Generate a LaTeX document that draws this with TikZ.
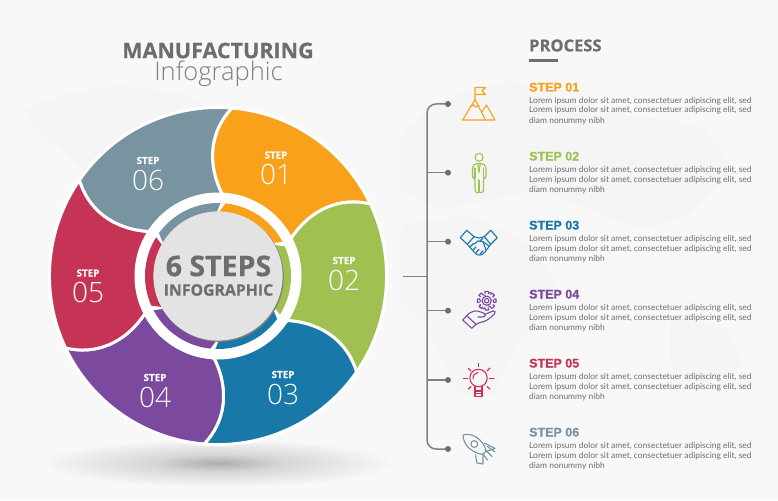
\documentclass[tikz,border=0pt]{standalone}
\usepackage{fontspec}
\setmainfont{Open Sans}
\newfontfamily\lightf{Open Sans Light}
\newfontfamily\headf[BoldFeatures={FakeBold=0.5}]{Liberation Sans}
\newfontfamily\heavyf[BoldFeatures={FakeBold=0.4}]{Open Sans}
\newfontfamily\bodyf{Lato}
\definecolor{bgc}{HTML}{F8F8F8}
\definecolor{mapc}{HTML}{F5F5F5}
\definecolor{cA}{HTML}{F9A11B}
\definecolor{cB}{HTML}{A0C151}
\definecolor{cC}{HTML}{1878A8}
\definecolor{cD}{HTML}{7B4A9F}
\definecolor{cE}{HTML}{C63455}
\definecolor{cF}{HTML}{7894A0}
\definecolor{tgray}{HTML}{6D6D6D}
\definecolor{lgray}{HTML}{808080}
\pgfdeclareradialshading{floorshadow}{\pgfpointorigin}{rgb(0bp)=(0.68,0.68,0.68); rgb(9bp)=(0.84,0.84,0.84); rgb(25bp)=(0.973,0.973,0.973); rgb(50bp)=(0.973,0.973,0.973)}
\newcommand{\fs}[1]{\fontsize{#1}{#1}\selectfont}
\tikzset{
  stepword/.style={text=white,font=\heavyf\bfseries\fs{9.8},inner sep=0pt},
  stepnum/.style={text=white,font=\lightf\fs{28},inner sep=0pt},
  dotnode/.style={circle,fill=tgray,minimum size=6pt,inner sep=0pt},
  trunk/.style={draw=lgray,line width=1.5pt},
  icon/.style={line width=1.1pt,line join=round,line cap=round},
  stephead/.style={font=\headf\fs{12.5}\bfseries,inner sep=0pt,anchor=base west},
  bodytxt/.style={text=tgray,font=\bodyf\fs{8.45},inner sep=0pt,anchor=base west},
}
\begin{document}
\begin{tikzpicture}[x=1pt,y=-1pt]
\useasboundingbox (0,0) rectangle (778,500);
\fill[bgc] (0,0) rectangle (778,500);
% faint world map
\fill[mapc,rounded corners=6] (22,112) -- (60,95) -- (120,85) -- (190,95) -- (230,130) -- (190,175) -- (140,215) -- (110,190) -- (60,150) -- cycle;
\fill[mapc,rounded corners=8] (400,135) -- (440,100) -- (510,80) -- (600,110) -- (700,125) -- (735,170) -- (690,215) -- (640,230) -- (590,210) -- (540,190) -- (490,200) -- (440,210) -- (400,190) -- cycle;
\fill[mapc,rounded corners=8] (400,225) -- (470,215) -- (530,245) -- (560,290) -- (520,340) -- (490,400) -- (455,390) -- (430,330) -- (400,300) -- cycle;
\fill[mapc,rounded corners=6] (670,320) -- (725,325) -- (745,365) -- (700,385) -- (670,365) -- cycle;
% floor shadow
\path[shading=floorshadow] (218,463) ellipse [x radius=178,y radius=24];
% wheel segments
\begin{scope}[shift={(218,276)},yscale=-1]
\foreach \k/\c in {0/cA,1/cB,2/cC,3/cD,4/cE,5/cF}{
  \begin{scope}[rotate=60*\k]
    \filldraw[fill=\c,draw=white,line width=3pt,line join=round]
      (3.7,82.7) .. controls (-12,115) and (-7,146) .. (13.9,168)
      arc[start angle=85.27,end angle=25.27,radius=168.57]
      .. controls (122.9,79.06) and (93.6,67.89) .. (73.47,38.15) -- cycle;
  \end{scope}
}
\fill[white] (0,0) circle (83.5);
\foreach \k/\c in {0/cA,1/cB,2/cC,3/cD,4/cE,5/cF}{
  \begin{scope}[rotate=60*\k]
    \fill[\c] (84:73) arc[start angle=84,end angle=28,radius=73] -- (31:64) arc[start angle=31,end angle=89,radius=64] -- cycle;
  \end{scope}
}
\fill[lgray] (1.2,-1.2) circle (64.6);
\fill[white!89!black] (0,0) circle (64.6);
\end{scope}
% wheel labels
\node[stepword] (w1) at (276,155) {STEP};
\node[stepnum] (n1) at (276,174.5) {01};
\node[stepword] (w2) at (344,260.5) {STEP};
\node[stepnum] (n2) at (344,280.5) {02};
\node[stepword] (w3) at (283,374.5) {STEP};
\node[stepnum] (n3) at (283,394) {03};
\node[stepword] (w4) at (155,377.5) {STEP};
\node[stepnum] (n4) at (155,397.5) {04};
\node[stepword] (w5) at (88,273) {STEP};
\node[stepnum] (n5) at (88,292.5) {05};
\node[stepword] (w6) at (148,160.5) {STEP};
\node[stepnum] (n6) at (148,180) {06};
\node[text=tgray,font=\heavyf\bfseries\fs{28.5},inner sep=0pt] (c1) at (218.5,266) {6 STEPS};
\node[text=tgray,font=\heavyf\bfseries\fs{15.8},inner sep=0pt] (c2) at (218.5,290) {INFOGRAPHIC};
% titles
\node[text=tgray,font=\heavyf\bfseries\fs{21.5},inner sep=0pt] (t1) at (218,50.5) {MANUFACTURING};
\node[text=lgray,font=\lightf\fs{25.5},inner sep=0pt] (t2) at (218.5,74) {Infographic};
\node[text=tgray,font=\heavyf\bfseries\fs{16.5},inner sep=0pt,anchor=west] (t3) at (529,45.5) {PROCESS};
\fill[tgray] (529,59.2) rectangle (558,62.2);
% timeline
\node[dotnode] (d1) at (448,104) {};
\node[dotnode] (d2) at (448,172.7) {};
\node[dotnode] (d3) at (448,241.7) {};
\node[dotnode] (d4) at (448,310.7) {};
\node[dotnode] (d5) at (448,380) {};
\node[dotnode] (d6) at (448,449) {};
\coordinate (tt) at (427,104);
\coordinate (tb) at (427,449);
\coordinate (b2) at (427,172.7);
\coordinate (b3) at (427,241.7);
\coordinate (b4) at (427,310.7);
\coordinate (b5) at (427,380);
\coordinate (s0) at (403,276.7);
\coordinate (s1) at (427,276.7);
\draw[trunk,rounded corners=9pt] (d1) -- (tt) -- (tb) -- (d6);
\draw[trunk] (d2) -- (b2);
\draw[trunk] (d3) -- (b3);
\draw[trunk] (d4) -- (b4);
\draw[trunk] (d5) -- (b5);
\draw[trunk,line width=1pt] (s0) -- (s1);
% step texts
\foreach \k/\c/\y in {1/cA/91.5,2/cB/160.5,3/cC/229.5,4/cD/298.5,5/cE/367.5,6/cF/436.5}{
  \node[stephead,text=\c] (h\k) at (529,\y) {STEP 0\k};
  \node[bodytxt] (la\k) at (529,\y+11.5) {Lorem ipsum dolor sit amet, consectetuer adipiscing elit, sed};
  \node[bodytxt] (lb\k) at (529,\y+21.5) {Lorem ipsum dolor sit amet, consectetuer adipiscing elit, sed};
  \node[bodytxt] (lc\k) at (529,\y+31.5) {diam nonummy nibh};
}
% icon 1: mountain and flag
\begin{scope}[icon,draw=cA]
\draw (462.7,120) -- (475,99.5) -- (485.5,120);
\draw (462.7,120) -- (495,120) -- (486.5,105) -- (481.5,112.5);
\draw (475,99.5) -- (475,87.5) -- (485.5,87.5) -- (482,91) -- (485.5,94.5) -- (475,94.5);
\draw (470.5,107) -- (473.5,104.5) -- (475.5,107) -- (479,105.5);
\end{scope}
% icon 2: man
\begin{scope}[icon,draw=cB]
\draw (479,157.3) circle (4);
\draw[rounded corners=2pt] (475.5,163.5) -- (482.5,163.5) -- (486,166) -- (486,178) -- (483.5,178) -- (483.5,192.5) -- (475,192.5) -- (475,178) -- (472.5,178) -- (472.5,166) -- cycle;
\draw (479,180) -- (479,192.5);
\draw (475,168) -- (475,178) (483.5,168) -- (483.5,178);
\draw (477.8,164) -- (479,172.5) -- (480.2,164);
\end{scope}
% icon 3: handshake
\begin{scope}[icon,draw=cC]
\draw (460.3,237.7) -- (466.7,230.3) -- (474,236.7) -- (467.3,244.3) -- cycle;
\draw (484.3,236.7) -- (490.7,230.3) -- (497.3,237.7) -- (490.7,244.3) -- cycle;
\draw (474,236.7) -- (479,238) -- (484.3,236.7);
\draw (467.3,244.3) -- (475,253) .. controls (478,256) and (482,256) .. (485,252) -- (490.7,244.3);
\draw (480,241) -- (483,238) (478,241) -- (483,241.5) -- (489,246);
\draw (478,241) -- (474.5,244);
\draw (470,247) -- (473.5,243.5) (473,250) -- (476,247) (476,252.5) -- (479,249.5) (480,254) -- (483,251);
\draw (483,241.5) -- (486,250);
\end{scope}
% icon 4: gear in hand
\begin{scope}[icon,draw=cD]
\foreach \a in {0,45,...,315}{
  \draw (486.7,300.7) ++(\a-12:7.3) -- ++(\a-8:2.2) -- ++(\a+90:3.4) -- ++(\a+172:2.2);
  \draw (486.7,300.7) ++(\a+12:7.3) arc[start angle=-\a-12,delta angle=-21,radius=7.3];
}
\draw (486.7,300.7) circle (4.6);
\draw (486.7,300.7) circle (2.2);
\draw (462.7,320) -- (466.7,315.7) -- (476,324.3) -- (471.7,328.3) -- cycle;
\draw (466.7,315.7) .. controls (472,310) and (477,310) .. (482,312.5) -- (484.5,313.5) .. controls (486.5,315) and (485,317) .. (482,317) -- (478,317);
\draw (484.5,314.5) -- (493,311) .. controls (495,310.5) and (496,312.5) .. (494.5,314) .. controls (490,318) and (486,322) .. (480,322.5) -- (476,324.3);
\end{scope}
% icon 5: bulb
\begin{scope}[icon,draw=cE]
\draw (478.5,378) circle (8.7);
\draw (475,386.5) -- (475,396.5) -- (482,396.5) -- (482,386.5);
\draw (475,391) -- (482,391) (475,393.8) -- (482,393.8);
\draw (473,378.5) .. controls (473,375) and (475,373) .. (478,372.5);
\draw (478.5,363.5) -- (478.5,366.5);
\draw (463.5,378.5) -- (467.5,378.5) (489.5,378.5) -- (494,378.5);
\draw (468.5,368.5) -- (471,371) (490,368) -- (487,371);
\draw (468.5,389) -- (471,386.5) (490,389) -- (487,386.5);
\end{scope}
% icon 6: rocket
\begin{scope}[icon,draw=cF]
\draw (463,435) .. controls (472,432) and (484,440) .. (486,451) -- (483,454.5) .. controls (472,453) and (463,445) .. cycle;
\draw (474.3,444) circle (3.4);
\draw (484.5,443) -- (495,448.5) -- (486,451.5);
\draw (475.5,455) -- (477,463) -- (483,464) -- (483,455);
\draw (487.5,446.5) -- (495,452) (485.5,450) -- (492,456.5) (482.7,453.5) -- (487.5,460);
\end{scope}
\end{tikzpicture}
\end{document}
